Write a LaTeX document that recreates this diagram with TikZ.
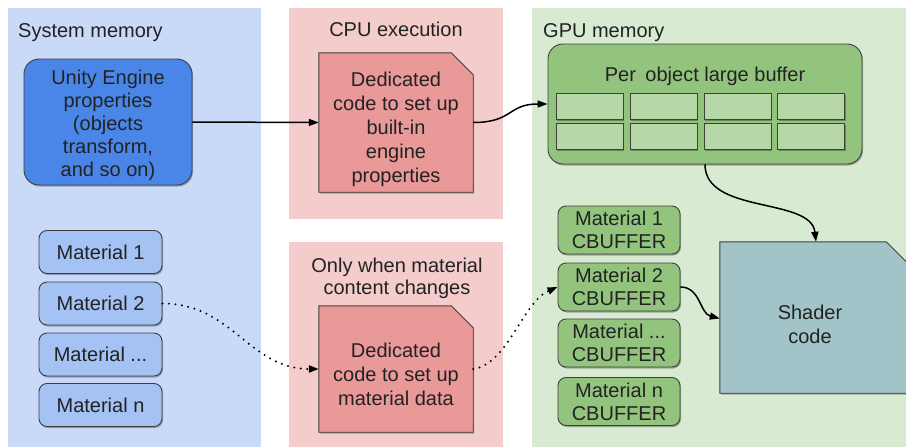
\documentclass[tikz,border=0pt]{standalone}
\usepackage{fontspec}
\setmainfont{Liberation Sans}
\usetikzlibrary{arrows.meta,shadows}
\definecolor{sysbg}{HTML}{C9DAF8}
\definecolor{cpubg}{HTML}{F4CCCC}
\definecolor{gpubg}{HTML}{D9EAD3}
\definecolor{unityc}{HTML}{4A86E8}
\definecolor{matblue}{HTML}{A4C2F4}
\definecolor{cpubox}{HTML}{EA9999}
\definecolor{greenbox}{HTML}{93C47D}
\definecolor{cellc}{HTML}{B6D7A8}
\definecolor{shaderc}{HTML}{A2C4C9}
\definecolor{edgec}{HTML}{3F3F3F}
\definecolor{txt}{HTML}{222222}
\tikzset{
  shad/.style={drop shadow={shadow xshift=1pt,shadow yshift=-1.5pt,opacity=0.3,fill=black}},
  rbox/.style={draw=edgec,line width=0.9pt,rounded corners=#1,shad,align=center,inner sep=0pt,
    text=txt,font=\fontsize{20}{23}\selectfont},
  sysmat/.style={rbox=8pt,fill=matblue,minimum width=123pt,minimum height=43pt},
  cbuf/.style={rbox=8pt,fill=greenbox,minimum width=122pt,minimum height=48pt},
  cell/.style={draw=edgec,line width=0.8pt,fill=cellc,minimum width=67pt,minimum height=26pt,inner sep=0pt,shad},
  holder/.style={minimum width=#1,inner sep=0pt},
  btxt/.style={inner sep=0pt,align=center,text=txt,font=\fontsize{20}{#1}\selectfont},
  fold/.style={draw=edgec,line width=0.9pt,shad},
  ttl/.style={text=txt,font=\fontsize{20}{22}\selectfont,inner sep=0pt},
  conn/.style={line width=1.5pt,-{Triangle[length=10pt,width=7pt]}},
  dotconn/.style={line width=2.2pt,line cap=round,dash pattern=on 0pt off 6.5pt,-{Triangle[length=10pt,width=7pt]}},
}
\begin{document}
\begin{tikzpicture}[x=1pt,y=-1pt]
\useasboundingbox (0,0) rectangle (906,447);
% panels
\fill[sysbg] (8,8) rectangle (261,447);
\fill[cpubg] (289,8) rectangle (503,219);
\fill[cpubg] (289,242) rectangle (503,447);
\fill[gpubg] (532,8) rectangle (906,447);
% titles
\node[ttl,anchor=base west] (tsys) at (18,37) {System memory};
\node[ttl,anchor=base] (tcpu) at (396,36) {CPU execution};
\node[ttl,anchor=base west] (tgpu) at (543,37) {GPU memory};
\node[ttl,align=center,anchor=base] (tonly) at (397,294) {Only when material\\content changes};
% system memory
\node[rbox=15pt,fill=unityc,minimum width=168pt,minimum height=126pt] (unity) at (108,122) {};
\node[btxt=23] (unityt) at (108,125) {Unity Engine\\properties\\(objects\\transform,\\and so on)};
\node[sysmat] (m1) at (100.5,252) {Material 1};
\node[sysmat] (m2) at (100.5,303.5) {Material 2};
\node[sysmat] (m3) at (100.5,354.5) {Material ...};
\node[sysmat] (m4) at (100.5,405) {Material n};
% CPU boxes (folded corner)
\node[holder=154pt,minimum height=139pt] (cpu1) at (396,122.5) {};
\draw[fold,fill=cpubox] (cpu1.north west) -- ([xshift=-22pt]cpu1.north east) -- ([yshift=-22pt]cpu1.north east)
  -- (cpu1.south east) -- (cpu1.south west) -- cycle;
\node[btxt=24] (cpu1t) at (396,129.5) {Dedicated\\code to set up\\built-in\\engine\\properties};
\node[holder=154pt,minimum height=126pt] (cpu2) at (396,369) {};
\draw[fold,fill=cpubox] (cpu2.north west) -- ([xshift=-22pt]cpu2.north east) -- ([yshift=-22pt]cpu2.north east)
  -- (cpu2.south east) -- (cpu2.south west) -- cycle;
\node[btxt=24] (cpu2t) at (396,374) {Dedicated\\code to set up\\material data};
% GPU memory
\node[rbox=15pt,fill=greenbox,minimum width=314pt,minimum height=120pt] (gbuf) at (705,104) {};
\node[ttl,anchor=base] (gbuft) at (705,81) {Per\hspace{4pt} object large buffer};
\foreach \cx [count=\i] in {589.5,663.5,737.5,811}{
  \node[cell] (ca\i) at (\cx,106) {};
  \node[cell] (cb\i) at (\cx,136) {};
}
\node[cbuf] (c1) at (619,230) {Material 1\\CBUFFER};
\node[cbuf] (c2) at (619,287) {Material 2\\CBUFFER};
\node[cbuf] (c3) at (619,343) {Material ...\\CBUFFER};
\node[cbuf] (c4) at (619,401.5) {Material n\\CBUFFER};
\node[holder=188pt,minimum height=151pt] (shader) at (814,317.5) {};
\draw[fold,fill=shaderc] (shader.north west) -- ([xshift=-22pt]shader.north east) -- ([yshift=-22pt]shader.north east)
  -- (shader.south east) -- (shader.south west) -- cycle;
\node[btxt=24] (shadert) at (810,324) {Shader\\code};
% connectors
\draw[conn] (unity.east) -- (cpu1.west);
\draw[conn] (cpu1.east) .. controls +(40,0) and +(-40,0) .. (gbuf.west);
\coordinate (gbout) at (gbuf.south);
\coordinate (shin) at ([xshift=2pt]shader.north);
\draw[conn] (gbout) .. controls +(0,50) and +(-5,-45) .. (shin);
\draw[conn] (c2.east) .. controls +(20,0) and +(-20,-5) .. ([yshift=-1pt]shader.west);
\draw[dotconn] (m2.east) .. controls +(70,0) and +(-70,0) .. (cpu2.west);
\draw[dotconn] (cpu2.east) .. controls +(35,-5) and +(-35,15) .. (c2.west);
\end{tikzpicture}
\end{document}
